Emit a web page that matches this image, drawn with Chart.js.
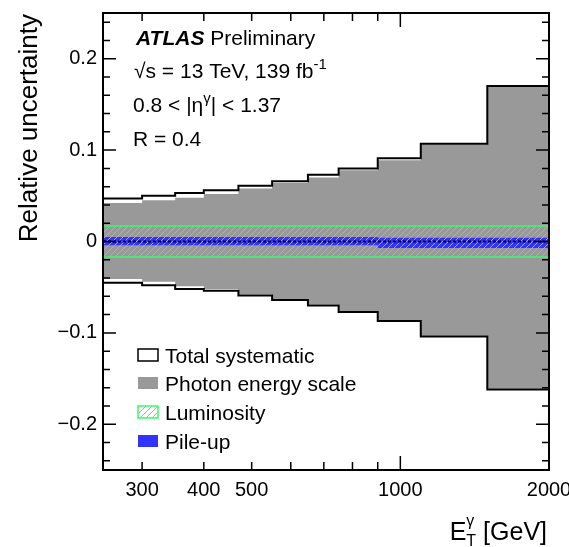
<!DOCTYPE html>
<html>
<head>
<meta charset="utf-8">
<script src="https://cdn.jsdelivr.net/npm/chart.js@4.4.0/dist/chart.umd.min.js"></script>
<style>
    html, body { margin: 0; padding: 0; background: #fff; }
</style>
</head>
<body>
<canvas id="uncChart" width="569" height="547"></canvas>
<script>
// Bin edges in photon E_T [GeV], one value per bin below
const binEdges = [250, 300, 350, 400, 470, 550, 650, 750, 900, 1100, 1500, 2000];

const totalUp = [0.047, 0.050, 0.053, 0.056, 0.061, 0.066, 0.073, 0.080, 0.091, 0.107, 0.170];
const totalDown = [-0.045, -0.048, -0.052, -0.054, -0.059, -0.064, -0.070, -0.077, -0.087, -0.104, -0.162];
const pesUp = [0.042, 0.045, 0.048, 0.052, 0.058, 0.064, 0.070, 0.078, 0.089, 0.106, 0.169];
const pesDown = [-0.041, -0.044, -0.049, -0.052, -0.058, -0.063, -0.069, -0.076, -0.086, -0.103, -0.161];
const lumiUp = [0.017, 0.017, 0.017, 0.017, 0.017, 0.017, 0.017, 0.017, 0.017, 0.017, 0.017];
const lumiDown = [-0.017, -0.017, -0.017, -0.017, -0.017, -0.017, -0.017, -0.017, -0.017, -0.017, -0.017];
const pileUp = [0.005, 0.005, 0.005, 0.005, 0.005, 0.005, 0.005, 0.005, 0.004, 0.004, 0.004];
const pileDown = [-0.004, -0.004, -0.004, -0.004, -0.004, -0.004, -0.004, -0.004, -0.007, -0.007, -0.007];

const xTickLabels = [300, 400, 500, 1000, 2000];
const xMinorTicks = [300, 400, 500, 600, 700, 800, 900];
const yTickLabels = [-0.2, -0.1, 0, 0.1, 0.2];

const FONT = "'Liberation Sans', Arial, Helvetica, sans-serif";
const GREY = '#999999';
const BLUE = '#3333ff';
const GREEN = '#33ff66';

// histogram points: value held from edge i to edge i+1
const histPoints = (vals) => binEdges.map((x, i) => ({ x: x, y: vals[Math.min(i, vals.length - 1)] }));

const makeHatch = () => {
    const c = document.createElement('canvas');
    c.width = 6; c.height = 6;
    const g = c.getContext('2d');
    g.strokeStyle = GREEN;
    g.lineWidth = 1;
    g.beginPath();
    g.moveTo(0, 6); g.lineTo(6, 0);
    g.moveTo(-1, 1); g.lineTo(1, -1);
    g.moveTo(5, 7); g.lineTo(7, 5);
    g.stroke();
    return g.createPattern(c, 'repeat');
};
const hatch = makeHatch();

const drawRich = (ctx, x, y, parts) => {
    parts.forEach(p => {
        ctx.font = p.font;
        ctx.fillText(p.t, x, y + (p.dy || 0));
        x += ctx.measureText(p.t).width;
    });
    return x;
};
const richWidth = (ctx, parts) => parts.reduce((w, p) => { ctx.font = p.font; return w + ctx.measureText(p.t).width; }, 0);

const decorPlugin = {
    id: 'decor',
    afterDraw(chart) {
        const ctx = chart.ctx;
        const { left, right, top, bottom } = chart.chartArea;
        const xs = chart.scales.x, ys = chart.scales.y;
        ctx.save();

        // frame
        ctx.strokeStyle = '#000';
        ctx.lineWidth = 2;
        ctx.strokeRect(left, top, right - left, bottom - top);

        // inward ticks
        ctx.lineWidth = 1.5;
        ctx.beginPath();
        for (let k = -12; k <= 12; k++) {
            const v = k * 0.02;
            const py = ys.getPixelForValue(v);
            const len = (k % 5 === 0) ? 13 : 7;
            ctx.moveTo(left, py); ctx.lineTo(left + len, py);
            ctx.moveTo(right, py); ctx.lineTo(right - len, py);
        }
        xMinorTicks.forEach(v => {
            const px = xs.getPixelForValue(v);
            ctx.moveTo(px, bottom); ctx.lineTo(px, bottom - 8);
            ctx.moveTo(px, top); ctx.lineTo(px, top + 8);
        });
        const p1000 = xs.getPixelForValue(1000);
        ctx.moveTo(p1000, bottom); ctx.lineTo(p1000, bottom - 14);
        ctx.moveTo(p1000, top); ctx.lineTo(p1000, top + 14);
        ctx.stroke();

        ctx.fillStyle = '#000';
        ctx.textBaseline = 'alphabetic';
        ctx.textAlign = 'left';

        // labels
        const big = `21px ${FONT}`;
        const sup = `15px ${FONT}`;
        drawRich(ctx, 136, 45, [
            { t: 'ATLAS', font: `italic bold 21px ${FONT}` },
            { t: ' Preliminary', font: big }
        ]);
        drawRich(ctx, 134, 78, [
            { t: '\u221As = 13 TeV, 139 fb', font: big },
            { t: '-1', font: sup, dy: -9 }
        ]);
        drawRich(ctx, 133, 112, [
            { t: '0.8 < |\u03B7', font: big },
            { t: '\u03B3', font: sup, dy: -9 },
            { t: '| < 1.37', font: big }
        ]);
        drawRich(ctx, 133, 146, [{ t: 'R = 0.4', font: big }]);

        // legend
        const legend = [
            { label: 'Total systematic', y: 355 },
            { label: 'Photon energy scale', y: 383 },
            { label: 'Luminosity', y: 412 },
            { label: 'Pile-up', y: 441 }
        ];
        const bx = 138, bw = 20, bh = 12;
        legend.forEach((it, i) => {
            const by = it.y - bh / 2;
            if (i === 0) {
                ctx.fillStyle = '#fff';
                ctx.fillRect(bx, by, bw, bh);
                ctx.strokeStyle = '#000';
                ctx.lineWidth = 1.5;
                ctx.strokeRect(bx, by, bw, bh);
            } else if (i === 1) {
                ctx.fillStyle = GREY;
                ctx.fillRect(bx, by, bw, bh);
            } else if (i === 2) {
                ctx.fillStyle = hatch;
                ctx.fillRect(bx, by, bw, bh);
                ctx.strokeStyle = GREEN;
                ctx.lineWidth = 1.5;
                ctx.strokeRect(bx, by, bw, bh);
            } else {
                ctx.fillStyle = BLUE;
                ctx.fillRect(bx, by, bw, bh);
            }
            ctx.fillStyle = '#000';
            ctx.font = big;
            ctx.fillText(it.label, 165, it.y + 7.5);
        });

        // x axis title, right aligned
        const xt = [
            { t: 'E', font: `25px ${FONT}` },
            { t: 'T', font: `16px ${FONT}`, dy: 6 },
            { t: ' [GeV]', font: `25px ${FONT}` }
        ];
        const w = richWidth(ctx, xt);
        const x0 = right - 2 - w;
        ctx.font = `25px ${FONT}`;
        const eW = ctx.measureText('E').width;
        drawRich(ctx, x0, 540, xt);
        ctx.font = `16px ${FONT}`;
        ctx.fillText('\u03B3', x0 + eW, 540 - 14);

        // y axis title, rotated, aligned to top
        ctx.save();
        ctx.translate(30, 14);
        ctx.rotate(-Math.PI / 2);
        ctx.textAlign = 'right';
        ctx.textBaseline = 'middle';
        ctx.font = `26px ${FONT}`;
        ctx.fillText('Relative uncertainty', 0, 0);
        ctx.restore();

        ctx.restore();
    }
};

const line = (data, extra) => Object.assign({
    data: data,
    stepped: 'before',
    pointRadius: 0,
    borderWidth: 0,
    fill: false
}, extra);

new Chart(document.getElementById('uncChart'), {
    type: 'line',
    data: {
        datasets: [
            line([{ x: 250, y: 0 }, { x: 2000, y: 0 }], { stepped: false, borderColor: '#000', borderWidth: 2, borderDash: [3, 2] }),
            line(histPoints(lumiUp), { borderColor: GREEN, borderWidth: 1.5, backgroundColor: hatch, fill: '+1' }),
            line(histPoints(lumiDown), { borderColor: GREEN, borderWidth: 1.5 }),
            line(histPoints(pileUp), { borderColor: BLUE, backgroundColor: BLUE, fill: '+1' }),
            line(histPoints(pileDown), { borderColor: BLUE }),
            line(histPoints(totalUp), { borderColor: '#000', borderWidth: 2 }),
            line(histPoints(totalDown), { borderColor: '#000', borderWidth: 2 }),
            line(histPoints(pesUp), { borderColor: GREY, backgroundColor: GREY, fill: '+1' }),
            line(histPoints(pesDown), { borderColor: GREY })
        ]
    },
    options: {
        responsive: false,
        animation: false,
        layout: { padding: { top: 13, right: 20, left: 0, bottom: 0 } },
        plugins: {
            legend: { display: false },
            tooltip: { enabled: false }
        },
        scales: {
            x: {
                type: 'logarithmic',
                min: 250,
                max: 2000,
                grid: { display: false, drawTicks: false },
                border: { display: false },
                afterBuildTicks: s => { s.ticks = xTickLabels.map(v => ({ value: v })); },
                ticks: {
                    autoSkip: false,
                    maxRotation: 0,
                    padding: 8,
                    color: '#000',
                    font: { size: 20, family: FONT },
                    callback: v => String(v)
                },
                afterFit: s => { s.height = 77; s.paddingLeft = 0; s.paddingRight = 0; }
            },
            y: {
                min: -0.25,
                max: 0.25,
                grid: { display: false, drawTicks: false },
                border: { display: false },
                afterBuildTicks: s => { s.ticks = yTickLabels.map(v => ({ value: v })); },
                ticks: {
                    padding: 6,
                    color: '#000',
                    font: { size: 20, family: FONT },
                    callback: v => v === 0 ? '0' : (v < 0 ? '\u2212' : '') + Math.abs(v).toFixed(1)
                },
                afterFit: s => { s.width = 103; s.paddingTop = 0; s.paddingBottom = 0; }
            }
        }
    },
    plugins: [decorPlugin]
});
</script>
</body>
</html>
